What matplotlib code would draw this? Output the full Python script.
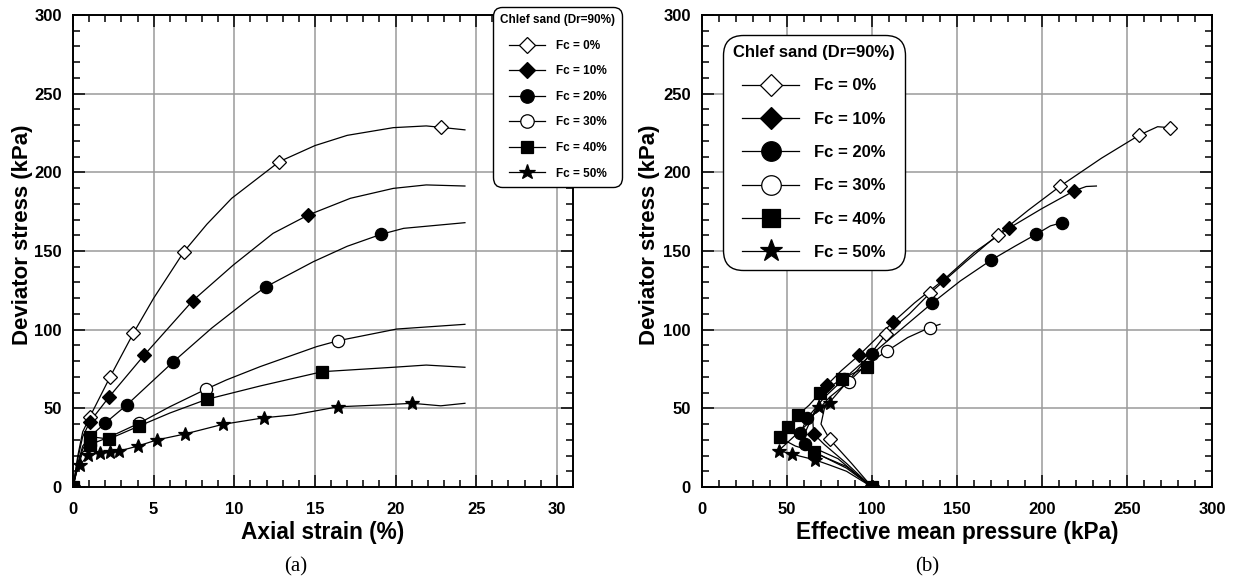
import matplotlib
matplotlib.use("Agg")
import matplotlib.pyplot as plt
from matplotlib.lines import Line2D
from matplotlib.ticker import MultipleLocator

plt.rcParams['font.family'] = ['Liberation Sans', 'DejaVu Sans']

labels = ["Fc = 0%", "Fc = 10%", "Fc = 20%", "Fc = 30%", "Fc = 40%", "Fc = 50%"]
markers = ["D", "D", "o", "o", "s", "*"]
fills = ["white", "black", "black", "white", "black", "black"]

# (a) axial strain (%) vs deviator stress (kPa): curve points
strain_0 = [0, 0.3, 0.6, 1.05, 2.3, 3.74, 5.0, 6.88, 8.3, 9.84, 12.79, 15.0, 17.0, 19.86, 21.9, 22.8, 24.3]
q_0 = [0, 20, 35, 44.7, 70, 97.7, 120, 149.6, 167, 183.5, 206.8, 217, 223.5, 228.4, 229.5, 228.6, 227]
strain_10 = [0, 0.3, 0.6, 1.05, 2.25, 4.42, 7.42, 9.94, 12.4, 14.59, 17.2, 19.86, 21.9, 24.3]
q_10 = [0, 18, 32, 41.5, 57.4, 83.9, 118.4, 141.1, 161.2, 172.9, 183.5, 189.8, 192, 191.3]
strain_20 = [0, 0.3, 0.6, 1.05, 1.98, 3.33, 6.22, 8.6, 10.97, 11.97, 14.9, 17.0, 19.1, 20.5, 24.3]
q_20 = [0, 15, 26, 32, 40.5, 52.1, 79.6, 101, 120, 127.3, 143.2, 153, 160.6, 164.4, 168]
strain_30 = [0, 0.3, 0.6, 1.05, 2.2, 4.09, 6.0, 8.23, 9.5, 11.6, 15.1, 16.45, 20.07, 24.3]
q_30 = [0, 13, 22, 27, 31.5, 40.5, 51, 62.1, 68, 76.5, 89.2, 93, 100.4, 103.4]
strain_40 = [0, 0.3, 0.6, 1.05, 2.23, 4.11, 6.0, 8.29, 11.6, 15.46, 19.86, 21.9, 24.3]
q_40 = [0, 14, 24, 32, 30.5, 38.8, 47, 55.7, 64.2, 73.3, 76.1, 77.5, 76.1]
strain_50 = [0, 0.2, 0.43, 0.95, 1.67, 2.29, 2.87, 4.01, 5.19, 6.94, 9.28, 11.84, 13.66, 16.45, 19.03, 21.03, 22.8, 24.3]
q_50 = [0, 9, 14, 20.3, 21.8, 22.5, 22.9, 26, 29.9, 33.7, 39.8, 44, 45.8, 51, 52.1, 53.2, 51.6, 53.2]

# (a) marker positions
mk_strain_0 = [0, 1.05, 2.3, 3.74, 6.88, 12.79, 22.8]
mk_q_0 = [0, 44.7, 70, 97.7, 149.6, 206.8, 228.6]
mk_strain_10 = [0, 1.05, 2.25, 4.42, 7.42, 14.59]
mk_q_10 = [0, 41.5, 57.4, 83.9, 118.4, 172.9]
mk_strain_20 = [0, 1.98, 3.33, 6.22, 11.97, 19.1]
mk_q_20 = [0, 40.5, 52.1, 79.6, 127.3, 160.6]
mk_strain_30 = [0, 1.05, 4.09, 8.23, 16.45]
mk_q_30 = [0, 27, 40.5, 62.1, 93]
mk_strain_40 = [0, 1.05, 1.05, 2.23, 4.11, 8.29, 15.46]
mk_q_40 = [0, 32, 26.5, 30.5, 38.8, 55.7, 73.3]
mk_strain_50 = [0, 0.43, 0.95, 1.67, 2.29, 2.87, 4.01, 5.19, 6.94, 9.28, 11.84, 16.45, 21.03]
mk_q_50 = [0, 14, 20.3, 21.8, 22.5, 22.9, 26, 29.9, 33.7, 39.8, 44, 51, 53.2]

# (b) effective mean pressure (kPa) vs deviator stress (kPa): stress paths
p_0 = [100, 88, 75, 70, 72, 80, 92, 108.4, 122, 133.9, 155, 173.9, 192, 210.8, 235, 257.3, 268, 275]
pq_0 = [0, 15, 30.5, 40, 50, 60, 75, 97.2, 110, 123, 143, 160.2, 176, 191.3, 209, 223.7, 229, 228.4]
p_10 = [100, 85, 72, 65.7, 65, 70, 73.5, 82, 92.5, 112.3, 125, 142, 160, 180.4, 200, 219, 226, 232]
pq_10 = [0, 15, 27, 33.7, 45, 58, 64.8, 74, 83.9, 104.7, 117, 131.6, 149, 164.4, 177, 188.3, 191, 191.3]
p_20 = [100, 80, 60.8, 57.8, 61.8, 72, 83.3, 100, 118, 135.3, 152, 170.2, 184, 196.5, 205, 211.8]
pq_20 = [0, 18, 27.3, 34.1, 43.7, 57, 68.5, 84.5, 101, 116.8, 131, 144.3, 153, 160.6, 166, 168]
p_30 = [100, 85, 70, 62, 60, 65, 75, 86.2, 97, 108.8, 121, 133.9, 140]
pq_30 = [0, 12, 20, 26, 33, 45, 57, 66.9, 78, 86.4, 95, 101.3, 103.4]
p_40 = [100, 85, 72, 65.7, 55, 48, 46, 50.4, 56.5, 63, 69.2, 82.1, 96.8]
pq_40 = [0, 13, 19, 22.5, 26, 30, 32, 38.4, 45.8, 52, 59.5, 68.5, 76.5]
p_50 = [100, 85, 75, 66.6, 58, 52.9, 45, 48, 55, 62, 68.6, 75.5]
pq_50 = [0, 10, 14, 17.2, 19.5, 21, 23.1, 26, 33, 40, 51, 53.2]

# (b) marker positions
mk_p_0 = [100, 75, 108.4, 133.9, 173.9, 210.8, 257.3, 275]
mk_pq_0 = [0, 30.5, 97.2, 123, 160.2, 191.3, 223.7, 228.4]
mk_p_10 = [100, 65.7, 73.5, 92.5, 112.3, 142, 180.4, 219]
mk_pq_10 = [0, 33.7, 64.8, 83.9, 104.7, 131.6, 164.4, 188.3]
mk_p_20 = [100, 60.8, 57.8, 61.8, 83.3, 100, 135.3, 170.2, 196.5, 211.8]
mk_pq_20 = [0, 27.3, 34.1, 43.7, 68.5, 84.5, 116.8, 144.3, 160.6, 168]
mk_p_30 = [100, 86.2, 108.8, 133.9]
mk_pq_30 = [0, 66.9, 86.4, 101.3]
mk_p_40 = [100, 65.7, 46, 50.4, 56.5, 69.2, 82.1, 96.8]
mk_pq_40 = [0, 22.5, 32, 38.4, 45.8, 59.5, 68.5, 76.5]
mk_p_50 = [100, 66.6, 52.9, 45, 68.6, 75.5]
mk_pq_50 = [0, 17.2, 21, 23.1, 51, 53.2]

curves_a = [(strain_0, q_0), (strain_10, q_10), (strain_20, q_20),
            (strain_30, q_30), (strain_40, q_40), (strain_50, q_50)]
marks_a = [(mk_strain_0, mk_q_0), (mk_strain_10, mk_q_10), (mk_strain_20, mk_q_20),
           (mk_strain_30, mk_q_30), (mk_strain_40, mk_q_40), (mk_strain_50, mk_q_50)]
curves_b = [(p_0, pq_0), (p_10, pq_10), (p_20, pq_20),
            (p_30, pq_30), (p_40, pq_40), (p_50, pq_50)]
marks_b = [(mk_p_0, mk_pq_0), (mk_p_10, mk_pq_10), (mk_p_20, mk_pq_20),
           (mk_p_30, mk_pq_30), (mk_p_40, mk_pq_40), (mk_p_50, mk_pq_50)]

msize = {"D": 7, "o": 8.8, "s": 8.2, "*": 10.5}

fig = plt.figure(figsize=(12.58, 5.87), dpi=100)
ax1 = fig.add_axes([73 / 1258, 100 / 587, 500 / 1258, 472 / 587])
ax2 = fig.add_axes([702 / 1258, 100 / 587, 510 / 1258, 472 / 587])


def style_axes(ax, xmax, xmajor, xminor, xlabel):
    ax.set_xlim(0, xmax)
    ax.set_ylim(0, 300)
    ax.xaxis.set_major_locator(MultipleLocator(xmajor))
    ax.xaxis.set_minor_locator(MultipleLocator(xminor))
    ax.yaxis.set_major_locator(MultipleLocator(50))
    ax.yaxis.set_minor_locator(MultipleLocator(10))
    ax.grid(True, which="major", color="#9a9a9a", linewidth=1.1)
    ax.set_axisbelow(True)
    ax.tick_params(which="both", direction="in", top=True, right=True, width=1.1)
    ax.tick_params(which="major", length=8.5, labelsize=12)
    ax.tick_params(which="minor", length=5)
    ax.tick_params(axis="x", which="major", pad=11)
    ax.tick_params(axis="y", which="major", pad=8)
    for sp in ax.spines.values():
        sp.set_linewidth(1.4)
    ax.set_ylabel("Deviator stress (kPa)", fontsize=16, fontweight="bold")
    ax.set_xlabel(xlabel, fontsize=16.3, fontweight="bold", labelpad=3)


for (x, y), (mx, my), m, f in zip(curves_a, marks_a, markers, fills):
    ax1.plot(x, y, color="black", linewidth=0.9, zorder=3)
    ax1.plot(mx, my, linestyle="none", marker=m, markersize=msize[m],
             markerfacecolor=f, markeredgecolor="black", markeredgewidth=0.9, zorder=4)

for (x, y), (mx, my), m, f in zip(curves_b, marks_b, markers, fills):
    ax2.plot(x, y, color="black", linewidth=0.9, zorder=3)
    ax2.plot(mx, my, linestyle="none", marker=m, markersize=msize[m],
             markerfacecolor=f, markeredgecolor="black", markeredgewidth=0.9, zorder=4)

style_axes(ax1, 31, 5, 1, "Axial strain (%)")
ax1.set_xticks([0, 5, 10, 15, 20, 25, 30])
ax1.yaxis.set_label_coords(-40 / 500, 0.534)
style_axes(ax2, 300, 50, 10, "Effective mean pressure (kPa)")
ax2.yaxis.set_label_coords(-42 / 510, 0.534)
for ax in (ax1, ax2):
    for lab in ax.get_xticklabels() + ax.get_yticklabels():
        lab.set_fontweight("bold")


def make_handles(scale):
    hs = []
    for m, f, lab in zip(markers, fills, labels):
        hs.append(Line2D([], [], color="black", linewidth=0.9, marker=m,
                         markersize=msize[m] * scale, markerfacecolor=f,
                         markeredgecolor="black", markeredgewidth=0.9, label=lab))
    return hs


leg1 = ax1.legend(handles=make_handles(1.1), title="Chlef sand (Dr=90%)",
                  loc="upper left", bbox_to_anchor=(493 / 1258, 1 - 7 / 587),
                  bbox_transform=fig.transFigure, prop={"weight": "bold", "size": 8.5},
                  title_fontproperties={"weight": "bold", "size": 8.5},
                  handlelength=3.1, labelspacing=1.15, borderpad=0.6, handletextpad=0.9,
                  borderaxespad=0, framealpha=1, edgecolor="black", fancybox=True)
leg1.get_frame().set_boxstyle("round", pad=0.0, rounding_size=0.8)
leg1.get_frame().set_linewidth(1.0)
leg1.set_zorder(10)

leg2 = ax2.legend(handles=make_handles(1.6), title="Chlef sand (Dr=90%)",
                  loc="upper left", bbox_to_anchor=(723 / 1258, 1 - 35 / 587),
                  bbox_transform=fig.transFigure, prop={"weight": "bold", "size": 12},
                  title_fontproperties={"weight": "bold", "size": 12},
                  handlelength=3.4, labelspacing=1.1, borderpad=0.6, handletextpad=0.9,
                  borderaxespad=0, framealpha=1, edgecolor="black", fancybox=True)
leg2.get_frame().set_boxstyle("round", pad=0.0, rounding_size=1.2)
leg2.get_frame().set_linewidth(1.0)

fig.text(296 / 1258, 1 - 567 / 587, "(a)", ha="center", va="center",
         fontsize=15, family=["Liberation Serif", "DejaVu Serif"])
fig.text(927 / 1258, 1 - 567 / 587, "(b)", ha="center", va="center",
         fontsize=15, family=["Liberation Serif", "DejaVu Serif"])

fig.savefig("out.png", dpi=100)
